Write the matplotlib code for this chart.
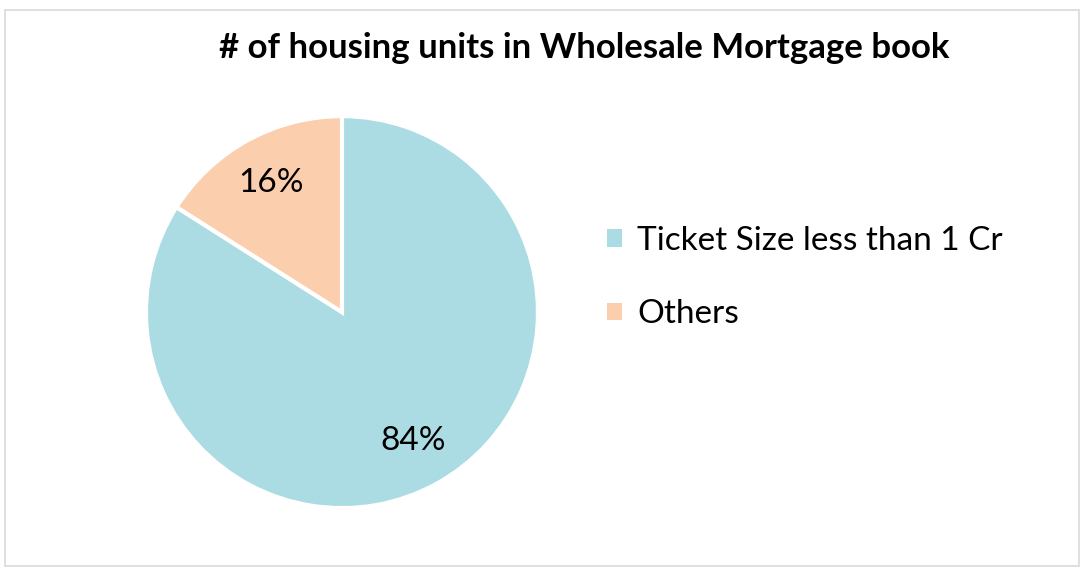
import matplotlib.pyplot as plt
from matplotlib.patches import Rectangle, Patch

# data
labels = ['Ticket Size less than 1 Cr', 'Others']
shares = [84, 16]
colors = ['#ABDCE3', '#FBCFAE']
title = '# of housing units in Wholesale Mortgage book'

plt.rcParams['font.family'] = ['Lato', 'DejaVu Sans']

fig = plt.figure(figsize=(10.82, 5.69), dpi=100)

# light grey frame around the chart area
fig.patches.append(Rectangle((5 / 1082, 1 - 566 / 569), 1074 / 1082, 556 / 569,
                             transform=fig.transFigure, fill=False,
                             edgecolor='#D9D9D9', linewidth=1.2))

ax = fig.add_axes([0.1349, 0.107, 0.3623, 0.689])
wedges, texts, autotexts = ax.pie(
    shares, colors=colors, startangle=90, counterclock=False,
    autopct='%d%%', pctdistance=0.75,
    wedgeprops=dict(edgecolor='white', linewidth=3),
    textprops=dict(fontsize=24, color='black'))
ax.set_xlim(-1, 1)
ax.set_ylim(-1, 1)
ax.set_aspect('equal')

fig.text(0.54, 0.915, title, ha='center', va='center',
         fontsize=25, fontweight='bold')

# legend squares without the white wedge edge
handles = [Patch(facecolor=c, edgecolor='none') for c in colors]
fig.legend(handles, labels, loc='center left',
           bbox_to_anchor=(0.561, 0.512), frameon=False,
           fontsize=24, handlelength=0.45, handleheight=0.45,
           handletextpad=0.45, labelspacing=1.3,
           borderpad=0, borderaxespad=0)

plt.savefig('out.png', dpi=100)
